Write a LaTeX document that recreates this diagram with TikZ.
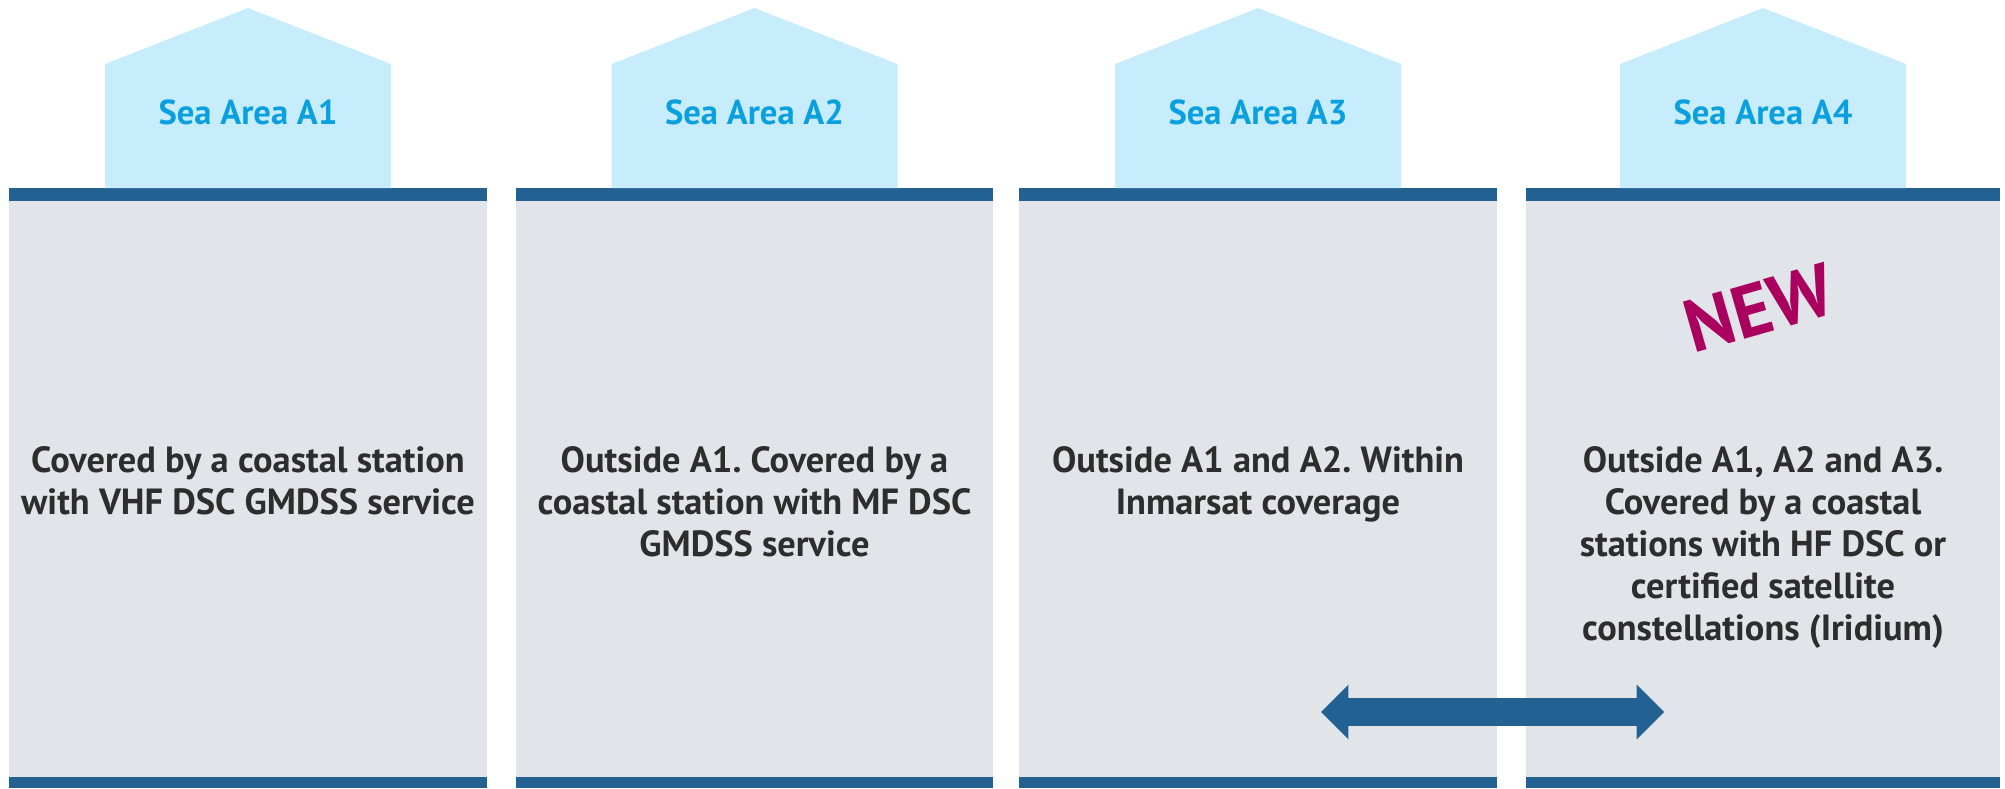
\documentclass[tikz,border=0pt]{standalone}
\usepackage{fontspec}
\setmainfont{PT Sans}
\usetikzlibrary{shapes.arrows, positioning}

\definecolor{roofblue}{HTML}{C7EDFD}
\definecolor{panelgray}{HTML}{E1E5E9}
\definecolor{bandblue}{HTML}{246193}
\definecolor{labelblue}{HTML}{0AA0DF}
\definecolor{textgray}{HTML}{2D2D2D}
\definecolor{newred}{HTML}{AA005E}

\begin{document}
\frenchspacing
\begin{tikzpicture}[x=0.5pt, y=-0.5pt]
	\tikzstyle{roof} = [fill=roofblue];
	\tikzstyle{panel} = [fill=panelgray];
	\tikzstyle{band} = [fill=bandblue];
	\tikzstyle{areaLabel} = [text=labelblue, inner sep=0pt, font={\fontsize{17.3}{20}\selectfont\bfseries}];
	\tikzstyle{areaText} = [text=textgray, align=center, anchor=north, inner sep=0pt, font={\fontsize{18.2}{21}\selectfont\bfseries}];
	\tikzstyle{newTag} = [text=newred, inner sep=0pt, rotate=16, font={\fontsize{37}{42}\selectfont\bfseries}];
	\tikzstyle{span} = [double arrow, fill=bandblue, inner xsep=0pt, inner ysep=6.75pt, minimum height=171.5pt, minimum width=27pt, double arrow head extend=6.75pt, double arrow head indent=0pt];

	\useasboundingbox (0,0) rectangle (2005,788);

	% panel A1
	\fill[panel] (9,188) rectangle (487,788);
	\fill[band] (9,188) rectangle (487,201);
	\fill[band] (9,777) rectangle (487,788);
	\fill[roof] (105,188) -- (105,64) -- (248,8) -- (391,64) -- (391,188) -- cycle;
	% panel A2
	\fill[panel] (516,188) rectangle (993,788);
	\fill[band] (516,188) rectangle (993,201);
	\fill[band] (516,777) rectangle (993,788);
	\fill[roof] (611.5,188) -- (611.5,64) -- (754.5,8) -- (897.5,64) -- (897.5,188) -- cycle;
	% panel A3
	\fill[panel] (1019,188) rectangle (1497,788);
	\fill[band] (1019,188) rectangle (1497,201);
	\fill[band] (1019,777) rectangle (1497,788);
	\fill[roof] (1115,188) -- (1115,64) -- (1258,8) -- (1401,64) -- (1401,188) -- cycle;
	% panel A4
	\fill[panel] (1526,188) rectangle (2000,788);
	\fill[band] (1526,188) rectangle (2000,201);
	\fill[band] (1526,777) rectangle (2000,788);
	\fill[roof] (1620,188) -- (1620,64) -- (1763,8) -- (1906,64) -- (1906,188) -- cycle;

	\node[areaLabel] (a1) at (248,112) {Sea Area A1};
	\node[areaLabel] (a2) at (754.5,112) {Sea Area A2};
	\node[areaLabel] (a3) at (1258,112) {Sea Area A3};
	\node[areaLabel] (a4) at (1763,112) {Sea Area A4};

	\node[areaText] (t1) at (248,446) {Covered by a coastal station\\with VHF DSC GMDSS service};
	\node[areaText] (t2) at (754.5,446) {Outside A1. Covered by a\\coastal station with MF DSC\\GMDSS service};
	\node[areaText] (t3) at (1258,446) {Outside A1 and A2. Within\\Inmarsat coverage};
	\node[areaText] (t4) at (1763,446) {Outside A1, A2 and A3.\\Covered by a coastal\\stations with HF DSC or\\certified satellite\\constellations (Iridium)};

	\node[newTag] (new) at (1759,308) {NEW};
	\node[span] (reach) at (1492.5,712) {};
\end{tikzpicture}
\end{document}
